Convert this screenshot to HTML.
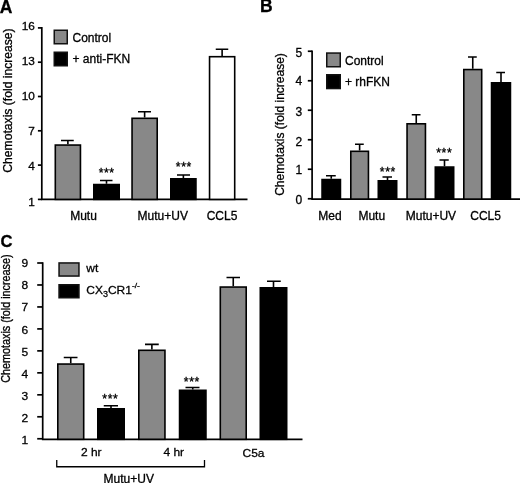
<!DOCTYPE html>
<html lang="en">
<head>
<meta charset="utf-8">
<title>Chemotaxis figure</title>
<style>
html,body{margin:0;padding:0;background:#fff;}
body{width:520px;height:483px;overflow:hidden;}
svg{display:block;filter:blur(0.35px);}
svg text{font-family:"Liberation Sans",sans-serif;fill:#000;stroke:#000;stroke-width:0.3px;}
</style>
</head>
<body>
<svg width="520" height="483" viewBox="0 0 520 483">
<rect width="520" height="483" fill="#fff"/>
<text x="-0.2" y="12.6" font-size="17.5" font-weight="bold">A</text>
<path d="M41.80 27.05V199.40H247.50" stroke="#000000" stroke-width="1.7" fill="none" stroke-linejoin="miter"/>
<path d="M37.90 27.90H41.80" stroke="#000000" stroke-width="1.7"/>
<text x="34.80" y="29.90" font-size="11.8" text-anchor="end" >16</text>
<path d="M37.90 62.20H41.80" stroke="#000000" stroke-width="1.7"/>
<text x="34.80" y="65.00" font-size="11.8" text-anchor="end" >13</text>
<path d="M37.90 96.50H41.80" stroke="#000000" stroke-width="1.7"/>
<text x="34.80" y="100.00" font-size="11.8" text-anchor="end" >10</text>
<path d="M37.90 130.80H41.80" stroke="#000000" stroke-width="1.7"/>
<text x="34.80" y="134.90" font-size="11.8" text-anchor="end" >7</text>
<path d="M37.90 165.10H41.80" stroke="#000000" stroke-width="1.7"/>
<text x="34.80" y="169.90" font-size="11.8" text-anchor="end" >4</text>
<path d="M37.90 199.40H41.80" stroke="#000000" stroke-width="1.7"/>
<text x="34.80" y="205.70" font-size="11.8" text-anchor="end" >1</text>
<text transform="translate(12.00 100.50) rotate(-90) scale(1.012 1)" font-size="12" text-anchor="middle">Chemotaxis (fold increase)</text>
<rect x="54.25" y="30.25" width="13.00" height="13.50" fill="#888888" stroke="#111" stroke-width="1.5"/>
<text x="72.50" y="41.80" font-size="12">Control</text>
<rect x="54.25" y="52.25" width="13.00" height="13.50" fill="#000000" stroke="#111" stroke-width="1.5"/>
<text x="72.50" y="63.30" font-size="12">+ anti-FKN</text>
<path d="M67.88 144.25V140.50M61.00 140.50H73.75" stroke="#000000" stroke-width="1.6" fill="none"/>
<rect x="55.30" y="145.05" width="25.15" height="54.35" fill="#888888" stroke="#000000" stroke-width="1.6"/>
<path d="M106.50 183.75V180.50M100.00 180.50H112.50" stroke="#000000" stroke-width="1.6" fill="none"/>
<rect x="93.80" y="184.55" width="25.40" height="14.85" fill="#000000" stroke="#000000" stroke-width="1.6"/>
<path d="M144.62 117.50V111.75M138.00 111.75H151.00" stroke="#000000" stroke-width="1.6" fill="none"/>
<rect x="132.05" y="118.30" width="25.15" height="81.10" fill="#888888" stroke="#000000" stroke-width="1.6"/>
<path d="M183.38 178.00V175.00M177.00 175.00H190.00" stroke="#000000" stroke-width="1.6" fill="none"/>
<rect x="170.80" y="178.80" width="25.15" height="20.60" fill="#000000" stroke="#000000" stroke-width="1.6"/>
<path d="M222.12 55.90V49.25M215.75 49.25H228.25" stroke="#000000" stroke-width="1.6" fill="none"/>
<rect x="209.55" y="56.70" width="25.15" height="142.70" fill="#ffffff" stroke="#000000" stroke-width="1.6"/>
<text x="106.70" y="177.40" font-size="12.2" text-anchor="middle" letter-spacing="0.55" style="stroke-width:0.32px">***</text>
<text x="183.80" y="171.30" font-size="12.2" text-anchor="middle" letter-spacing="0.55" style="stroke-width:0.32px">***</text>
<text x="83.50" y="220.00" font-size="12" text-anchor="middle" >Mutu</text>
<text x="162.75" y="220.00" font-size="12" text-anchor="middle" >Mutu+UV</text>
<text x="222.00" y="220.00" font-size="12" text-anchor="middle" >CCL5</text>
<text x="259.9" y="12.4" font-size="17.5" font-weight="bold">B</text>
<path d="M312.10 50.40V199.10H520.00" stroke="#000000" stroke-width="1.7" fill="none" stroke-linejoin="miter"/>
<path d="M307.80 51.25H312.10" stroke="#000000" stroke-width="1.7"/>
<text x="302.10" y="56.55" font-size="12" text-anchor="end" >5</text>
<path d="M307.80 80.75H312.10" stroke="#000000" stroke-width="1.7"/>
<text x="302.10" y="84.55" font-size="12" text-anchor="end" >4</text>
<path d="M307.80 110.25H312.10" stroke="#000000" stroke-width="1.7"/>
<text x="302.10" y="115.55" font-size="12" text-anchor="end" >3</text>
<path d="M307.80 139.75H312.10" stroke="#000000" stroke-width="1.7"/>
<text x="302.10" y="146.35" font-size="12" text-anchor="end" >2</text>
<path d="M307.80 169.25H312.10" stroke="#000000" stroke-width="1.7"/>
<text x="302.10" y="173.95" font-size="12" text-anchor="end" >1</text>
<path d="M307.80 198.75H312.10" stroke="#000000" stroke-width="1.7"/>
<text x="302.10" y="204.05" font-size="12" text-anchor="end" >0</text>
<text transform="translate(284.20 124.50) rotate(-90) scale(1.0 1)" font-size="12" text-anchor="middle">Chemotaxis (fold increase)</text>
<rect x="326.75" y="53.05" width="13.50" height="13.70" fill="#888888" stroke="#111" stroke-width="1.5"/>
<text x="345.00" y="64.50" font-size="12">Control</text>
<rect x="326.75" y="74.75" width="13.50" height="13.80" fill="#000000" stroke="#111" stroke-width="1.5"/>
<text x="345.00" y="85.80" font-size="12">+ rhFKN</text>
<path d="M331.25 178.75V175.75M326.00 175.75H335.75" stroke="#000000" stroke-width="1.6" fill="none"/>
<rect x="322.05" y="179.55" width="18.40" height="19.55" fill="#000000" stroke="#000000" stroke-width="1.6"/>
<path d="M359.62 150.50V144.25M355.00 144.25H363.75" stroke="#000000" stroke-width="1.6" fill="none"/>
<rect x="350.80" y="151.30" width="17.65" height="47.80" fill="#888888" stroke="#000000" stroke-width="1.6"/>
<path d="M387.50 180.00V177.00M382.50 177.00H392.00" stroke="#000000" stroke-width="1.6" fill="none"/>
<rect x="378.30" y="180.80" width="18.40" height="18.30" fill="#000000" stroke="#000000" stroke-width="1.6"/>
<path d="M416.25 123.00V114.75M411.75 114.75H420.50" stroke="#000000" stroke-width="1.6" fill="none"/>
<rect x="407.05" y="123.80" width="18.40" height="75.30" fill="#888888" stroke="#000000" stroke-width="1.6"/>
<path d="M444.50 166.25V160.00M439.50 160.00H448.75" stroke="#000000" stroke-width="1.6" fill="none"/>
<rect x="435.30" y="167.05" width="18.40" height="32.05" fill="#000000" stroke="#000000" stroke-width="1.6"/>
<path d="M472.75 68.75V57.00M468.00 57.00H476.75" stroke="#000000" stroke-width="1.6" fill="none"/>
<rect x="463.80" y="69.55" width="17.90" height="129.55" fill="#888888" stroke="#000000" stroke-width="1.6"/>
<path d="M501.00 82.00V72.50M496.25 72.50H505.00" stroke="#000000" stroke-width="1.6" fill="none"/>
<rect x="491.55" y="82.80" width="18.90" height="116.30" fill="#000000" stroke="#000000" stroke-width="1.6"/>
<text x="387.80" y="176.10" font-size="12.2" text-anchor="middle" letter-spacing="0.55" style="stroke-width:0.32px">***</text>
<text x="444.25" y="157.40" font-size="12.2" text-anchor="middle" letter-spacing="0.55" style="stroke-width:0.32px">***</text>
<text x="330.00" y="220.00" font-size="12" text-anchor="middle" >Med</text>
<text x="371.75" y="220.00" font-size="12" text-anchor="middle" >Mutu</text>
<text x="430.90" y="220.00" font-size="12" text-anchor="middle" >Mutu+UV</text>
<text x="485.60" y="220.00" font-size="12" text-anchor="middle" >CCL5</text>
<text x="0.6" y="246.7" font-size="16.6" font-weight="bold">C</text>
<path d="M42.70 262.15V439.30H302.50" stroke="#000000" stroke-width="1.7" fill="none" stroke-linejoin="miter"/>
<path d="M37.20 263.00H42.70" stroke="#000000" stroke-width="1.7"/>
<text transform="translate(28.30 267.08) scale(1 0.95)" font-size="12" text-anchor="end">9</text>
<path d="M37.20 284.97H42.70" stroke="#000000" stroke-width="1.7"/>
<text transform="translate(28.30 289.25) scale(1 0.95)" font-size="12" text-anchor="end">8</text>
<path d="M37.20 306.94H42.70" stroke="#000000" stroke-width="1.7"/>
<text transform="translate(28.30 311.42) scale(1 0.95)" font-size="12" text-anchor="end">7</text>
<path d="M37.20 328.91H42.70" stroke="#000000" stroke-width="1.7"/>
<text transform="translate(28.30 333.59) scale(1 0.95)" font-size="12" text-anchor="end">6</text>
<path d="M37.20 350.88H42.70" stroke="#000000" stroke-width="1.7"/>
<text transform="translate(28.30 355.76) scale(1 0.95)" font-size="12" text-anchor="end">5</text>
<path d="M37.20 372.85H42.70" stroke="#000000" stroke-width="1.7"/>
<text transform="translate(28.30 377.94) scale(1 0.95)" font-size="12" text-anchor="end">4</text>
<path d="M37.20 394.82H42.70" stroke="#000000" stroke-width="1.7"/>
<text transform="translate(28.30 400.10) scale(1 0.95)" font-size="12" text-anchor="end">3</text>
<path d="M37.20 416.79H42.70" stroke="#000000" stroke-width="1.7"/>
<text transform="translate(28.30 422.27) scale(1 0.95)" font-size="12" text-anchor="end">2</text>
<path d="M37.20 438.76H42.70" stroke="#000000" stroke-width="1.7"/>
<text transform="translate(28.30 444.44) scale(1 0.95)" font-size="12" text-anchor="end">1</text>
<text transform="translate(10.40 318.60) rotate(-90) scale(0.9 1)" font-size="12" text-anchor="middle">Chemotaxis (fold increase)</text>
<rect x="59.05" y="262.95" width="19.90" height="13.10" fill="#888888" stroke="#111" stroke-width="1.5"/>
<text transform="translate(86.25 272.00) scale(1 0.9)" font-size="12">wt</text>
<rect x="59.05" y="284.75" width="19.90" height="13.00" fill="#000000" stroke="#111" stroke-width="1.5"/>
<text transform="translate(86.25 293.75) scale(1 0.92)" font-size="12">CX<tspan font-size="9" dy="3.8">3</tspan><tspan dy="-3.8">CR1</tspan><tspan font-size="8.5" dy="-5.8">-/-</tspan></text>
<path d="M70.75 363.25V357.50M63.75 357.50H77.50" stroke="#000000" stroke-width="1.6" fill="none"/>
<rect x="57.80" y="364.05" width="25.90" height="75.25" fill="#888888" stroke="#000000" stroke-width="1.6"/>
<path d="M111.00 408.00V405.75M103.75 405.75H118.00" stroke="#000000" stroke-width="1.6" fill="none"/>
<rect x="97.80" y="408.80" width="26.40" height="30.50" fill="#000000" stroke="#000000" stroke-width="1.6"/>
<path d="M151.88 349.50V344.40M145.00 344.40H158.75" stroke="#000000" stroke-width="1.6" fill="none"/>
<rect x="138.80" y="350.30" width="26.15" height="89.00" fill="#888888" stroke="#000000" stroke-width="1.6"/>
<path d="M192.75 389.50V387.50M185.50 387.50H199.50" stroke="#000000" stroke-width="1.6" fill="none"/>
<rect x="179.55" y="390.30" width="26.40" height="49.00" fill="#000000" stroke="#000000" stroke-width="1.6"/>
<path d="M233.25 286.25V277.50M226.50 277.50H240.00" stroke="#000000" stroke-width="1.6" fill="none"/>
<rect x="220.30" y="287.05" width="25.90" height="152.25" fill="#888888" stroke="#000000" stroke-width="1.6"/>
<path d="M273.50 287.00V281.25M267.00 281.25H280.75" stroke="#000000" stroke-width="1.6" fill="none"/>
<rect x="260.30" y="287.80" width="26.40" height="151.50" fill="#000000" stroke="#000000" stroke-width="1.6"/>
<text x="110.30" y="402.80" font-size="12.2" text-anchor="middle" letter-spacing="0.55" style="stroke-width:0.32px">***</text>
<text x="191.80" y="385.60" font-size="12.2" text-anchor="middle" letter-spacing="0.55" style="stroke-width:0.32px">***</text>
<text transform="translate(91.25 456.4) scale(1 0.92)" font-size="12" text-anchor="middle">2 hr</text>
<text transform="translate(173.75 456.4) scale(1 0.92)" font-size="12" text-anchor="middle">4 hr</text>
<text transform="translate(253.5 456.8) scale(1 0.95)" font-size="12" text-anchor="middle">C5a</text>
<path d="M56.75 460V466.75H204.5V460" stroke="#000000" stroke-width="1.3" fill="none"/>
<text x="128.75" y="482.50" font-size="12" text-anchor="middle" >Mutu+UV</text>
</svg>
</body>
</html>
